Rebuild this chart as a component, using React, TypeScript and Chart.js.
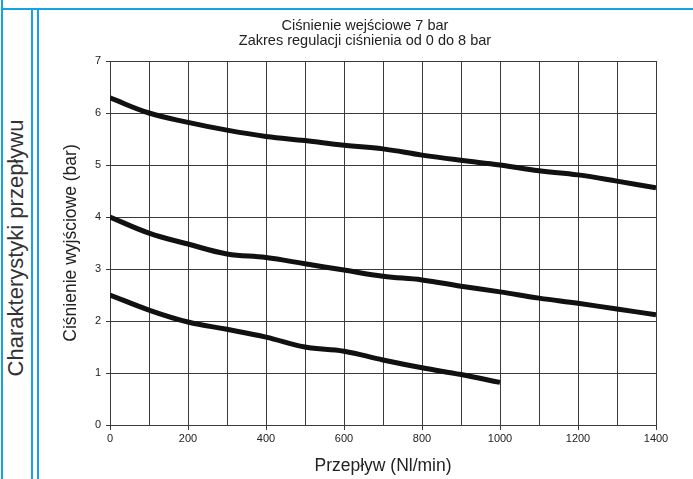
import React, { useEffect, useRef } from 'react';
import { Chart, registerables } from 'chart.js';

Chart.register(...registerables);

const flowValues = [0, 100, 200, 300, 400, 500, 600, 700, 800, 900, 1000, 1100, 1200, 1300, 1400];
const highSeries = [6.29, 6.0, 5.82, 5.67, 5.55, 5.47, 5.38, 5.31, 5.19, 5.09, 5.0, 4.89, 4.81, 4.69, 4.56];
const midSeries = [4.0, 3.69, 3.48, 3.29, 3.22, 3.1, 2.98, 2.86, 2.79, 2.67, 2.56, 2.44, 2.34, 2.23, 2.12];
const lowSeries = [2.5, 2.21, 1.98, 1.84, 1.69, 1.5, 1.42, 1.25, 1.1, 0.97, 0.82];
const titleLines = ['Ciśnienie wejściowe 7 bar', 'Zakres regulacji ciśnienia od 0 do 8 bar'];
const xAxisTitle = 'Przepływ (Nl/min)';
const yAxisTitle = 'Ciśnienie wyjściowe (bar)';
const sideLabel = 'Charakterystyki przepływu';
const xLabelStep = 200;

const FONT = '"Liberation Sans", Arial, sans-serif';
const BLUE = '#14a3e0';
const TEXT = '#222';
const GRID = '#3a3a3a';

function toPoints(values: number[]) {
  return values.map((y, i) => ({ x: flowValues[i], y }));
}

export default function App() {
  const canvasRef = useRef<HTMLCanvasElement | null>(null);

  useEffect(() => {
    const canvas = canvasRef.current;
    if (!canvas) return;
    const lineStyle = {
      borderColor: '#111',
      borderWidth: 5,
      pointRadius: 0,
      tension: 0.4,
      fill: false,
    };
    const chart = new Chart(canvas, {
      type: 'line',
      data: {
        datasets: [
          { ...lineStyle, label: 'a', data: toPoints(highSeries) },
          { ...lineStyle, label: 'b', data: toPoints(midSeries) },
          { ...lineStyle, label: 'c', data: toPoints(lowSeries) },
        ],
      },
      options: {
        responsive: false,
        animation: false,
        devicePixelRatio: 1,
        layout: { padding: 0 },
        plugins: {
          legend: { display: false },
          tooltip: { enabled: false },
          title: {
            display: true,
            text: titleLines,
            color: TEXT,
            font: { family: FONT, size: 14.5, weight: 'normal', lineHeight: 1 },
            padding: { top: 9, bottom: 13 },
          },
        },
        scales: {
          x: {
            type: 'linear',
            min: 0,
            max: 1400,
            afterFit: (s: any) => {
              s.height = 54;
            },
            ticks: {
              stepSize: 100,
              autoSkip: false,
              maxRotation: 0,
              color: TEXT,
              padding: 2,
              font: { family: FONT, size: 11 },
              callback: (v: any) => (Number(v) % xLabelStep === 0 ? String(v) : ''),
            },
            grid: {
              color: GRID,
              lineWidth: 1,
              tickLength: 5,
              tickColor: (ctx: any) =>
                ctx.tick && ctx.tick.value % xLabelStep === 0 ? GRID : 'rgba(0,0,0,0)',
            },
            border: { color: GRID, width: 1 },
            title: {
              display: true,
              text: xAxisTitle,
              color: TEXT,
              font: { family: FONT, size: 17.5 },
              padding: { top: 0, bottom: 2.5 },
            },
          },
          y: {
            min: 0,
            max: 7,
            afterFit: (s: any) => {
              s.width = 70;
            },
            ticks: {
              stepSize: 1,
              color: TEXT,
              padding: 5,
              font: { family: FONT, size: 11 },
            },
            grid: { color: GRID, lineWidth: 1, tickLength: 4, tickColor: GRID },
            border: { color: GRID, width: 1 },
            title: {
              display: true,
              text: yAxisTitle,
              color: TEXT,
              font: { family: FONT, size: 17.5 },
              padding: { top: 21, bottom: 0 },
            },
          },
          yRightSpace: {
            type: 'linear',
            position: 'right',
            display: true,
            afterFit: (s: any) => {
              s.width = 34;
            },
            ticks: { display: false },
            grid: { display: false, drawTicks: false },
            border: { display: false },
          },
        },
      },
    });
    return () => chart.destroy();
  }, []);

  const line = (style: React.CSSProperties): React.CSSProperties => ({
    position: 'absolute',
    background: BLUE,
    ...style,
  });

  return (
    <div style={{ position: 'absolute', left: 0, top: 0, width: 693, height: 479, overflow: 'hidden', background: '#fff' }}>
      <div style={line({ left: 1, top: 8, width: 692, height: 2 })} />
      <div style={line({ left: 1, top: 0, width: 2, height: 479 })} />
      <div style={line({ left: 31, top: 9, width: 2, height: 470 })} />
      <div style={line({ left: 37, top: 9, width: 2, height: 470 })} />
      <div
        style={{
          position: 'absolute',
          left: 16,
          top: 248,
          transform: 'translate(-50%, -50%) rotate(-90deg)',
          whiteSpace: 'nowrap',
          fontFamily: FONT,
          fontSize: 22,
          color: '#333',
        }}
      >
        {sideLabel}
      </div>
      <canvas
        ref={canvasRef}
        width={650}
        height={469}
        style={{ position: 'absolute', left: 40, top: 10, width: 650, height: 469 }}
      />
    </div>
  );
}
